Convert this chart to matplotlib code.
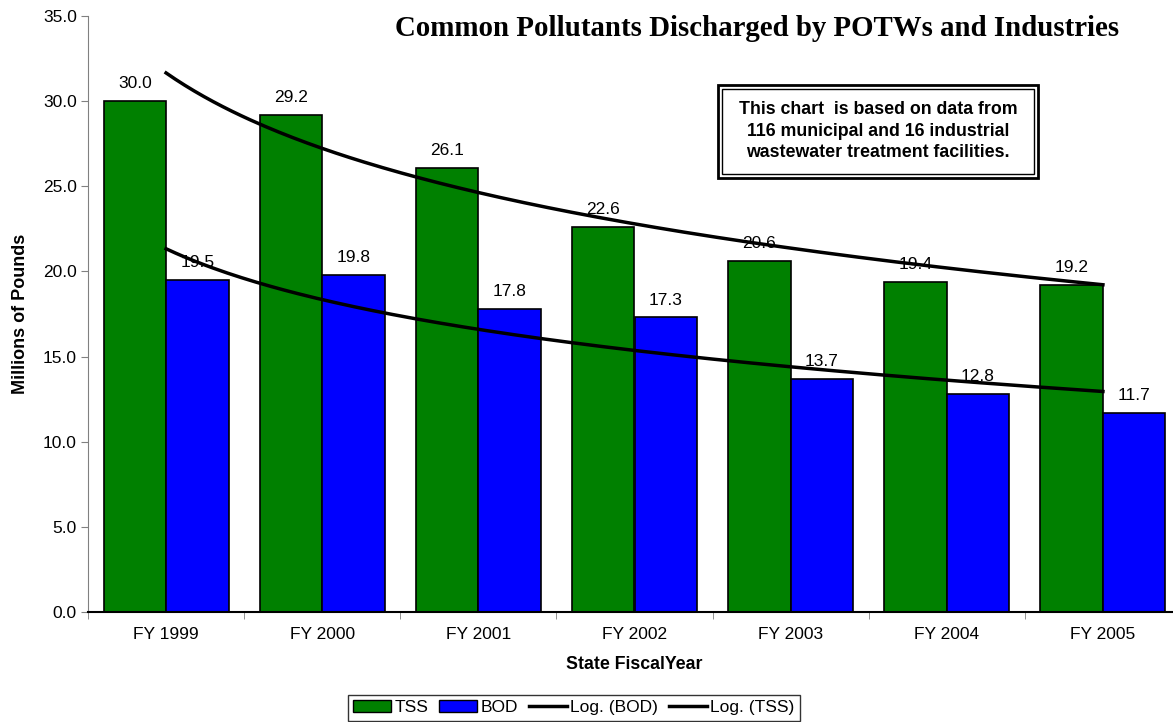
import numpy as np
import matplotlib
matplotlib.use('Agg')
import matplotlib.pyplot as plt
from matplotlib.patches import Rectangle, Patch
from matplotlib.lines import Line2D

years = ['FY 1999', 'FY 2000', 'FY 2001', 'FY 2002', 'FY 2003', 'FY 2004', 'FY 2005']
tss = [30.0, 29.2, 26.1, 22.6, 20.6, 19.4, 19.2]
bod = [19.5, 19.8, 17.8, 17.3, 13.7, 12.8, 11.7]

plt.rcParams['font.family'] = ['Liberation Sans', 'DejaVu Sans']

fig = plt.figure(figsize=(11.73, 7.22), dpi=100)
# axes runs a bit past the right edge, like the original cropped chart
ax = fig.add_axes([88/1173, 1-612/722, 1093/1173, 596/722])

x = np.arange(len(years))
w = 0.4
ax.bar(x - w/2, tss, w, color='#008000', edgecolor='black', linewidth=1.2, zorder=2)
ax.bar(x + w/2, bod, w, color='#0000ff', edgecolor='black', linewidth=1.2, zorder=2)

for i in range(len(years)):
    ax.annotate('%.1f' % tss[i], (x[i] - w/2, tss[i]), xytext=(0, 7), textcoords='offset points',
                ha='center', va='bottom', fontsize=12.5, zorder=4)
    ax.annotate('%.1f' % bod[i], (x[i] + w/2, bod[i]), xytext=(0, 7), textcoords='offset points',
                ha='center', va='bottom', fontsize=12.5, zorder=4)

# logarithmic trendlines (excel style), x = 1..7
n = np.arange(1, len(years) + 1)
xs = np.linspace(1, len(years), 200)
for series in (tss, bod):
    a, b = np.polyfit(np.log(n), series, 1)
    ax.plot(xs - 1, a*np.log(xs) + b, color='black', lw=2.5, zorder=3)

ax.set_xlim(-0.5, len(years) - 0.5)
ax.set_ylim(0, 35)
ax.set_yticks(np.arange(0, 35.1, 5))
ax.set_yticklabels(['%.1f' % v for v in np.arange(0, 35.1, 5)], fontsize=12.5)
ax.set_xticks(x)
ax.set_xticklabels(years, fontsize=12.5)
ax.set_xticks(np.arange(-0.5, len(years)), minor=True)
ax.tick_params(axis='x', which='major', length=0, pad=11)
ax.tick_params(axis='x', which='minor', length=5, color='#808080')
ax.tick_params(axis='y', length=5, color='#808080', pad=3)
ax.spines['top'].set_visible(False)
ax.spines['right'].set_visible(False)
ax.spines['left'].set_color('#808080')
ax.spines['bottom'].set_linewidth(1.5)

ax.set_ylabel('Millions of Pounds', fontsize=13, fontweight='bold', labelpad=10)
ax.set_xlabel('State FiscalYear', fontsize=12.8, fontweight='bold', labelpad=10)

fig.text(757/1173, 1-28/722, 'Common Pollutants Discharged by POTWs and Industries',
         family='Liberation Serif', fontsize=20.8, fontweight='bold', ha='center', va='center')

# double bordered note box
fig.patches.append(Rectangle((718/1173, 1-178/722), 320/1173, 93/722, transform=fig.transFigure,
                             fill=False, edgecolor='black', lw=2))
fig.patches.append(Rectangle((722/1173, 1-174/722), 312/1173, 85/722, transform=fig.transFigure,
                             fill=False, edgecolor='black', lw=1))
fig.text(878/1173, 1-131/722,
         'This chart  is based on data from\n116 municipal and 16 industrial\nwastewater treatment facilities.',
         fontsize=12.8, fontweight='bold', ha='center', va='center', linespacing=1.38)

handles = [Patch(facecolor='#008000', edgecolor='black'),
           Patch(facecolor='#0000ff', edgecolor='black'),
           Line2D([], [], color='black', lw=2.5),
           Line2D([], [], color='black', lw=2.5)]
labels = ['TSS', 'BOD', 'Log. (BOD)', 'Log. (TSS)']
leg = fig.legend(handles, labels, loc='upper center', bbox_to_anchor=(574/1173, 1-695/722), ncol=4,
                 fontsize=12.5, frameon=True, fancybox=False, edgecolor='black',
                 handlelength=2.2, handletextpad=0.2, columnspacing=0.6, borderpad=0.3,
                 borderaxespad=0)
leg.get_frame().set_linewidth(1)

fig.savefig('out.png', dpi=100)
